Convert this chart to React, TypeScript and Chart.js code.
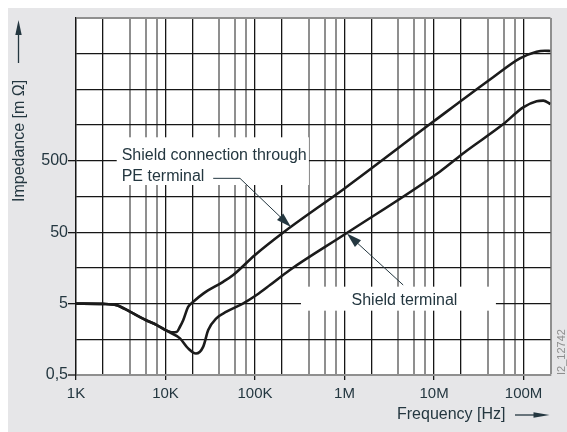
import React, { useEffect, useRef } from 'react';
import { Chart, registerables } from 'chart.js';

Chart.register(...registerables);

const FONT = '"Liberation Sans", Arial, Helvetica, sans-serif';
const TEXT = '#243740';
const BLACK = '#161616';
const GRAY = '#8f8f8f';

// ---- axis ranges / ticks ----
const X_MIN = 1e3;
const X_MAX = 2e8;
const Y_MIN = 0.5;
const Y_MAX = 50000;

const xGridValues = [
  1e3, 2e3, 4e3, 6e3, 8e3,
  1e4, 2e4, 4e4, 6e4, 8e4,
  1e5, 2e5, 4e5, 6e5, 8e5,
  1e6, 2e6, 4e6, 6e6, 8e6,
  1e7, 2e7, 4e7, 6e7, 8e7,
  1e8, 2e8,
];
const xLabelValues = [1e3, 1e4, 1e5, 1e6, 1e7, 1e8];
const xLabels = ['1K', '10K', '100K', '1M', '10M', '100M'];

const yGridValues = [0.5, 1.58, 5, 15.8, 50, 158, 500, 1580, 5000, 15800, 50000];
const yLabelValues = [0.5, 5, 50, 500];
const yLabels = ['0,5', '5', '50', '500'];

// ---- series: Shield connection through PE terminal ----
const peFreq = [
  1e3, 2e3, 2.85e3, 4e3, 6e3, 8e3, 1e4, 1.17e4, 1.33e4, 1.45e4, 1.58e4, 1.79e4,
  2.04e4, 2.64e4, 4.4e4, 5.7e4, 1e5, 2e5, 1e6, 1e7, 4.57e7, 9.1e7, 1.4e8, 1.73e8, 2e8,
];
const peImp = [
  5.0, 4.95, 4.75, 3.85, 2.95, 2.5, 2.13, 1.98, 2.0, 2.37, 2.95, 4.5,
  5.3, 6.9, 10.1, 12.6, 24, 48, 205, 1800, 7400, 13600, 16900, 17400, 17250,
];

// ---- series: Shield terminal ----
const stFreq = [
  1e3, 2e3, 2.85e3, 4e3, 6e3, 8e3, 1e4, 1.17e4, 1.45e4, 1.79e4, 2.19e4, 2.64e4,
  3e4, 3.7e4, 4.8e4, 7.4e4, 1.04e5, 1.47e5, 2.45e5, 1.05e6, 1.16e7, 2.2e7, 5.9e7,
  9.9e7, 1.4e8, 1.66e8, 2e8,
];
const stImp = [
  5.0, 4.95, 4.75, 3.85, 2.95, 2.5, 2.13, 1.92, 1.63, 1.18, 1.0, 1.25,
  2.13, 3.11, 3.85, 5.05, 6.6, 9.1, 14.8, 48.3, 352, 660, 1620,
  2800, 3420, 3480, 3120,
];

// ---- annotations (in data units) ----
const peLines = ['Shield connection through', 'PE terminal'];
const peBox = { f1: 2850, f2: 400000, z1: 229, z2: 1067 };
const peText = { f: 3240, z1: 513, z2: 263 };
const peLeader: [number, number][] = [[34100, 284], [67900, 284], [252000, 59]];

const stLabel = 'Shield terminal';
const stBox = { f1: 326000, f2: 49100000, z1: 3.98, z2: 8.63 };
const stText = { f: 4670000, z: 4.78 };
const stLeader: [number, number][] = [[4520000, 9.11], [1063000, 48]];

function mantissa(v: number) {
  const e = Math.floor(Math.log10(v) + 1e-9);
  return Math.round(v / Math.pow(10, e));
}

function near(a: number, b: number) {
  return Math.abs(a - b) <= Math.abs(b) * 1e-6;
}

function drawArrow(ctx: CanvasRenderingContext2D, pts: [number, number][], head: number, half: number) {
  const [x1, y1] = pts[pts.length - 2];
  const [x2, y2] = pts[pts.length - 1];
  const a = Math.atan2(y2 - y1, x2 - x1);
  const bx = x2 - head * 0.8 * Math.cos(a);
  const by = y2 - head * 0.8 * Math.sin(a);
  ctx.beginPath();
  ctx.moveTo(pts[0][0], pts[0][1]);
  for (let i = 1; i < pts.length - 1; i++) ctx.lineTo(pts[i][0], pts[i][1]);
  ctx.lineTo(bx, by);
  ctx.stroke();
  ctx.beginPath();
  ctx.moveTo(x2, y2);
  ctx.lineTo(x2 - head * Math.cos(a) + half * Math.sin(a), y2 - head * Math.sin(a) - half * Math.cos(a));
  ctx.lineTo(x2 - head * Math.cos(a) - half * Math.sin(a), y2 - head * Math.sin(a) + half * Math.cos(a));
  ctx.closePath();
  ctx.fill();
}

const decorPlugin = {
  id: 'decor',
  beforeDraw(chart: any) {
    const { ctx, chartArea } = chart;
    ctx.save();
    ctx.fillStyle = '#ffffff';
    ctx.fillRect(chartArea.left, chartArea.top, chartArea.right - chartArea.left, chartArea.bottom - chartArea.top);
    ctx.restore();
  },
  afterDatasetsDraw(chart: any) {
    const { ctx } = chart;
    const xs = chart.scales.x;
    const ys = chart.scales.y;
    const X = (f: number) => xs.getPixelForValue(f);
    const Y = (z: number) => ys.getPixelForValue(z);
    ctx.save();
    ctx.fillStyle = '#ffffff';
    for (const b of [peBox, stBox]) {
      const x1 = X(b.f1), x2 = X(b.f2), y1 = Y(b.z2), y2 = Y(b.z1);
      ctx.fillRect(x1, y1, x2 - x1, y2 - y1);
    }
    ctx.fillStyle = TEXT;
    ctx.font = `16px ${FONT}`;
    ctx.textBaseline = 'alphabetic';
    ctx.textAlign = 'left';
    ctx.fillText(peLines[0], X(peText.f), Y(peText.z1));
    ctx.fillText(peLines[1], X(peText.f), Y(peText.z2));
    ctx.textAlign = 'center';
    ctx.fillText(stLabel, X(stText.f), Y(stText.z));
    ctx.strokeStyle = TEXT;
    ctx.lineWidth = 1;
    drawArrow(ctx, peLeader.map(([f, z]) => [X(f), Y(z)] as [number, number]), 15, 4.5);
    drawArrow(ctx, stLeader.map(([f, z]) => [X(f), Y(z)] as [number, number]), 15, 4.5);
    ctx.restore();
  },
  afterDraw(chart: any) {
    const { ctx, chartArea } = chart;
    ctx.save();
    ctx.fillStyle = TEXT;
    ctx.strokeStyle = TEXT;
    ctx.lineWidth = 1.3;
    ctx.font = `16px ${FONT}`;
    ctx.textBaseline = 'alphabetic';
    ctx.textAlign = 'left';
    // Y title, rotated
    ctx.save();
    ctx.translate(chartArea.left - 52, chartArea.top + 184);
    ctx.rotate(-Math.PI / 2);
    ctx.fillText('Impedance [m Ω]', 0, 0);
    ctx.restore();
    drawArrow(ctx, [[chartArea.left - 57.5, chartArea.top + 45], [chartArea.left - 57.5, chartArea.top + 2]], 15, 3.2);
    // X title
    ctx.fillText('Frequency [Hz]', chartArea.right - 153.5, chartArea.bottom + 44.3);
    drawArrow(ctx, [[chartArea.right - 35.5, chartArea.bottom + 40], [chartArea.right - 1, chartArea.bottom + 40]], 16, 2.8);
    // figure id
    ctx.fillStyle = '#8e8e8e';
    ctx.font = `11px ${FONT}`;
    ctx.save();
    ctx.translate(chartArea.right + 14, chartArea.bottom);
    ctx.rotate(-Math.PI / 2);
    ctx.fillText('I2_12742', 0, 0);
    ctx.restore();
    ctx.restore();
  },
};

export default function App() {
  const ref = useRef<HTMLCanvasElement | null>(null);

  useEffect(() => {
    if (!ref.current) return;
    document.documentElement.style.overflow = 'hidden';
    const chart = new Chart(ref.current, {
      type: 'line',
      data: {
        datasets: [
          {
            label: 'Shield connection through PE terminal',
            data: peFreq.map((f, i) => ({ x: f, y: peImp[i] })),
            borderColor: '#1b1b1b',
            borderWidth: 2.6,
            pointRadius: 0,
            fill: false,
            cubicInterpolationMode: 'monotone',
          },
          {
            label: 'Shield terminal',
            data: stFreq.map((f, i) => ({ x: f, y: stImp[i] })),
            borderColor: '#1b1b1b',
            borderWidth: 2.6,
            pointRadius: 0,
            fill: false,
            cubicInterpolationMode: 'monotone',
          },
        ],
      },
      options: {
        animation: false,
        responsive: false,
        events: [],
        layout: { padding: { top: 10, right: 16.5, left: 0, bottom: 0 } },
        plugins: { legend: { display: false }, tooltip: { enabled: false } },
        scales: {
          x: {
            type: 'logarithmic',
            min: X_MIN,
            max: X_MAX,
            afterBuildTicks: (s: any) => {
              s.ticks = xGridValues.map((v) => ({ value: v }));
            },
            afterFit: (s: any) => {
              s.height = 57;
            },
            ticks: {
              autoSkip: false,
              maxRotation: 0,
              minRotation: 0,
              padding: 5,
              color: TEXT,
              font: { family: FONT, size: 15 },
              callback: (v: any) => {
                const i = xLabelValues.findIndex((t) => near(Number(v), t));
                return i >= 0 ? xLabels[i] : '';
              },
            },
            grid: {
              drawTicks: true,
              tickLength: 5,
              color: (c: any) => {
                const v = c.tick ? c.tick.value : 0;
                if (!v) return BLACK;
                if (v >= X_MAX) return GRAY;
                const m = mantissa(v);
                return m === 1 || m === 2 ? BLACK : GRAY;
              },
              lineWidth: (c: any) => {
                const v = c.tick ? c.tick.value : 0;
                if (!v) return 1.3;
                if (v >= X_MAX) return 2;
                const m = mantissa(v);
                return m === 1 || m === 2 ? 1.3 : 2;
              },
              tickColor: (c: any) => {
                const v = c.tick ? c.tick.value : 0;
                return xLabelValues.some((t) => near(v, t)) ? BLACK : 'rgba(0,0,0,0)';
              },
              tickWidth: 1.3,
            },
            border: { display: true, color: GRAY, width: 2 },
          },
          y: {
            type: 'logarithmic',
            min: Y_MIN,
            max: Y_MAX,
            afterBuildTicks: (s: any) => {
              s.ticks = yGridValues.map((v) => ({ value: v }));
            },
            afterFit: (s: any) => {
              s.width = 68;
            },
            ticks: {
              autoSkip: false,
              padding: 0,
              color: TEXT,
              font: { family: FONT, size: 16 },
              callback: (v: any) => {
                const i = yLabelValues.findIndex((t) => near(Number(v), t));
                return i >= 0 ? yLabels[i] : '';
              },
            },
            grid: {
              drawTicks: true,
              tickLength: 8,
              color: (c: any) => {
                const v = c.tick ? c.tick.value : 1;
                return near(v, Y_MIN) || near(v, Y_MAX) ? GRAY : BLACK;
              },
              lineWidth: (c: any) => {
                const v = c.tick ? c.tick.value : 1;
                return near(v, Y_MIN) || near(v, Y_MAX) ? 2 : 1.3;
              },
              tickColor: (c: any) => {
                const v = c.tick ? c.tick.value : 1;
                return yLabelValues.some((t) => near(v, t)) ? BLACK : 'rgba(0,0,0,0)';
              },
              tickWidth: 1.3,
            },
            border: { display: true, color: BLACK, width: 1.3 },
          },
        },
      } as any,
      plugins: [decorPlugin as any],
    });
    return () => chart.destroy();
  }, []);

  return (
    <div
      style={{
        position: 'absolute',
        left: 8,
        top: 8,
        width: 559,
        height: 424,
        background: '#e6e6e8',
      }}
    >
      <canvas ref={ref} width={559} height={424} style={{ display: 'block', width: 559, height: 424 }} />
    </div>
  );
}
